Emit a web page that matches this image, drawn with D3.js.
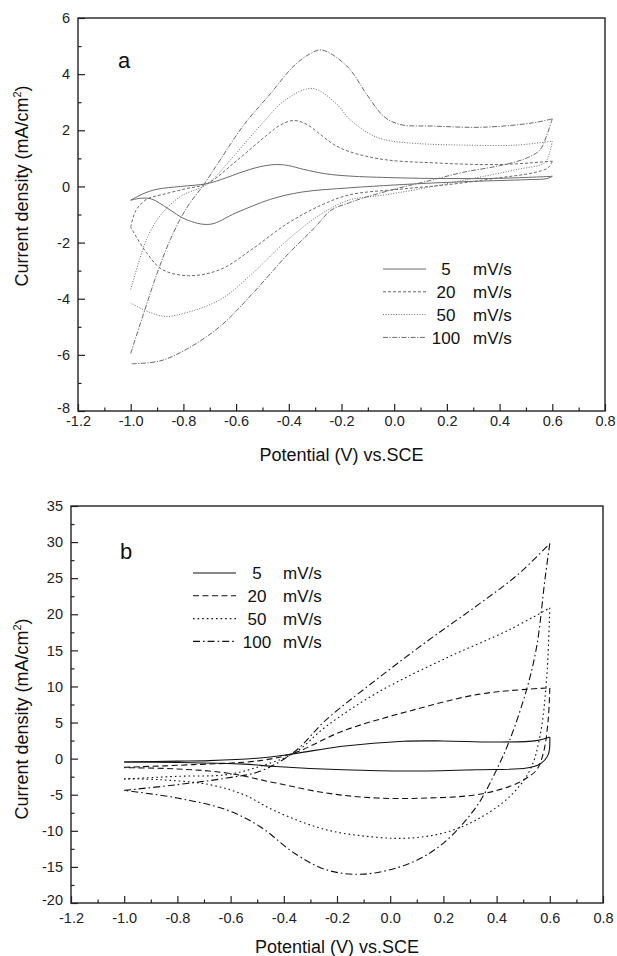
<!DOCTYPE html>
<html>
<head>
<meta charset="utf-8">
<script src="https://d3js.org/d3.v7.min.js"></script>
<style>
  body { margin: 0; background: #fff; font-family: "Liberation Sans", Arial, sans-serif; }
  .tick text { fill: #222; font-family: "Liberation Sans", Arial, sans-serif; }
  .tick line { stroke: #222; }
</style>
</head>
<body>
<svg id="fig" width="617" height="956"></svg>
<script>
// ---- data (potential V vs SCE, current density mA/cm2) ----
const xTicks = [-1.2, -1.0, -0.8, -0.6, -0.4, -0.2, 0.0, 0.2, 0.4, 0.6, 0.8];
const yTicksA = [-8, -6, -4, -2, 0, 2, 4, 6];
const yTicksB = [-20, -15, -10, -5, 0, 5, 10, 15, 20, 25, 30, 35];
const rates = ["5", "20", "50", "100"];

// panel a: anodic (up) and cathodic (down) sweeps
const a5Up = [[-1.0,-0.49],[-0.95,-0.25],[-0.9,-0.1],[-0.81,0.0],[-0.71,0.1],[-0.64,0.3],[-0.585,0.49],[-0.51,0.7],[-0.45,0.78],[-0.4,0.74],[-0.345,0.61],[-0.26,0.45],[-0.17,0.37],[0.0,0.31],[0.2,0.28],[0.4,0.29],[0.6,0.36]];
const a5Down = [[0.6,0.36],[0.58,0.28],[0.5,0.24],[0.3,0.18],[0.14,0.12],[0.0,0.05],[-0.17,-0.05],[-0.35,-0.2],[-0.47,-0.46],[-0.6,-0.94],[-0.7,-1.35],[-0.79,-1.18],[-0.86,-0.78],[-0.92,-0.45],[-0.96,-0.42],[-1.0,-0.49]];
const a20Up = [[-1.0,-1.45],[-0.98,-0.85],[-0.94,-0.46],[-0.88,-0.29],[-0.79,-0.08],[-0.71,0.1],[-0.6,0.9],[-0.48,1.85],[-0.43,2.2],[-0.38,2.35],[-0.33,2.2],[-0.28,1.85],[-0.23,1.5],[-0.17,1.24],[-0.04,0.96],[0.15,0.84],[0.4,0.78],[0.6,0.9]];
const a20Down = [[0.6,0.9],[0.585,0.67],[0.53,0.49],[0.4,0.31],[0.21,0.07],[0.02,-0.1],[-0.17,-0.3],[-0.28,-0.68],[-0.41,-1.35],[-0.54,-2.24],[-0.66,-2.96],[-0.78,-3.18],[-0.88,-2.96],[-0.94,-2.36],[-1.0,-1.45]];
const a50Up = [[-1.0,-3.67],[-0.97,-2.72],[-0.94,-1.89],[-0.89,-1.06],[-0.81,-0.35],[-0.71,0.08],[-0.62,0.96],[-0.51,2.15],[-0.41,3.1],[-0.31,3.49],[-0.22,2.95],[-0.17,2.4],[-0.1,1.91],[-0.04,1.67],[0.085,1.53],[0.28,1.47],[0.46,1.47],[0.6,1.61]];
const a50Down = [[0.6,1.61],[0.59,1.2],[0.57,0.84],[0.47,0.61],[0.28,0.25],[0.085,-0.11],[-0.05,-0.32],[-0.17,-0.48],[-0.28,-1.0],[-0.41,-1.95],[-0.535,-3.07],[-0.66,-4.03],[-0.79,-4.5],[-0.87,-4.63],[-0.94,-4.44],[-1.0,-4.15]];
const a100Up = [[-1.0,-5.95],[-0.95,-4.5],[-0.9,-3.1],[-0.85,-1.9],[-0.79,-0.8],[-0.72,0.1],[-0.66,0.95],[-0.57,2.2],[-0.47,3.3],[-0.38,4.3],[-0.32,4.72],[-0.275,4.86],[-0.18,4.29],[-0.1,3.22],[-0.04,2.5],[0.02,2.21],[0.15,2.15],[0.34,2.11],[0.53,2.27],[0.6,2.41]];
const a100Down = [[0.6,2.41],[0.578,1.8],[0.553,1.3],[0.5,1.0],[0.4,0.74],[0.26,0.5],[0.14,0.22],[0.0,-0.1],[-0.12,-0.42],[-0.17,-0.58],[-0.24,-0.85],[-0.3,-1.45],[-0.41,-2.48],[-0.535,-3.79],[-0.66,-4.98],[-0.79,-5.81],[-0.89,-6.22],[-1.0,-6.32]];

// panel b
const b5Up = [[-1.0,-0.46],[-0.8,-0.35],[-0.68,-0.28],[-0.49,0.09],[-0.36,0.69],[-0.18,1.71],[0.05,2.41],[0.2,2.45],[0.39,2.3],[0.55,2.5],[0.6,3.0]];
const b5Down = [[0.6,3.0],[0.594,0.56],[0.563,-0.74],[0.513,-1.3],[0.325,-1.53],[0.074,-1.72],[-0.176,-1.55],[-0.43,-1.1],[-0.55,-0.76],[-0.8,-0.52],[-1.0,-0.46]];
const b20Up = [[-1.0,-1.2],[-0.74,-0.83],[-0.49,-0.28],[-0.36,0.79],[-0.18,3.8],[0.07,6.57],[0.33,8.9],[0.51,9.6],[0.6,9.8]];
const b20Down = [[0.6,9.8],[0.594,5.4],[0.576,0.79],[0.551,-1.53],[0.513,-2.69],[0.45,-3.84],[0.325,-5.0],[0.137,-5.46],[-0.05,-5.46],[-0.24,-4.77],[-0.43,-3.38],[-0.615,-1.99],[-0.8,-1.43],[-1.0,-1.25]];
const b50Up = [[-1.0,-2.82],[-0.8,-2.45],[-0.615,-2.22],[-0.49,-1.07],[-0.36,0.79],[-0.24,4.49],[-0.05,9.1],[0.2,13.75],[0.45,17.9],[0.6,20.9]];
const b50Down = [[0.6,20.9],[0.588,11],[0.563,3.1],[0.526,-1.53],[0.45,-5.23],[0.325,-8.47],[0.2,-10.3],[0.074,-11],[-0.05,-10.9],[-0.24,-9.86],[-0.43,-7.3],[-0.55,-5.0],[-0.68,-3.6],[-0.865,-2.92],[-1.0,-2.8]];
const b100Up = [[-1.0,-4.4],[-0.8,-3.6],[-0.615,-2.69],[-0.49,-1.76],[-0.36,0.95],[-0.24,5.4],[-0.05,11],[0.14,16.3],[0.33,21.3],[0.48,25.5],[0.6,29.8]];
const b100Down = [[0.6,29.8],[0.582,24.9],[0.551,15.6],[0.513,9.6],[0.45,2.64],[0.4,-1.53],[0.325,-6.6],[0.2,-11.7],[0.074,-14.5],[-0.1,-16.0],[-0.24,-15.4],[-0.36,-13.1],[-0.49,-9.4],[-0.615,-7.1],[-0.8,-5.46],[-1.0,-4.4]];

const svg = d3.select("#fig");
svg.append("rect").attr("width", 617).attr("height", 956).attr("fill", "#fff");

function drawPanel(p) {
  const x = d3.scaleLinear().domain([-1.2, 0.8]).range([p.left, p.right]);
  const y = d3.scaleLinear().domain(d3.extent(p.yTicks)).range([p.bottom, p.top]);
  const g = svg.append("g");

  // minor ticks
  const xMinor = d3.range(-1.1, 0.8, 0.2);
  const yStep = p.yTicks[1] - p.yTicks[0];
  const yMinor = d3.range(p.yTicks[0] + yStep / 2, p.yTicks[p.yTicks.length - 1], yStep);
  g.append("g").attr("transform", `translate(0,${p.bottom})`)
    .call(d3.axisBottom(x).tickValues(xMinor).tickSize(-3.5).tickFormat(""))
    .call(a => a.select(".domain").remove());
  g.append("g").attr("transform", `translate(${p.left},0)`)
    .call(d3.axisLeft(y).tickValues(yMinor).tickSize(-3.5).tickFormat(""))
    .call(a => a.select(".domain").remove());

  // major ticks + labels
  const xa = g.append("g").attr("transform", `translate(0,${p.bottom})`)
    .call(d3.axisBottom(x).tickValues(xTicks).tickSize(-7).tickPadding(p.xPad).tickFormat(d => d.toFixed(1)));
  xa.select(".domain").remove();
  xa.selectAll("text").attr("font-size", 14.5);
  const ya = g.append("g").attr("transform", `translate(${p.left},0)`)
    .call(d3.axisLeft(y).tickValues(p.yTicks).tickSize(-7).tickPadding(8).tickFormat(d => String(d)));
  ya.select(".domain").remove();
  ya.selectAll("text").attr("font-size", 14.5);
  // lowest y label sits just above the corner, as in the source figure
  ya.selectAll("text").filter(d => d === p.yTicks[0]).attr("dy", "0.1em");

  g.selectAll(".tick line").attr("stroke-width", 1.2);

  // frame
  g.append("rect")
    .attr("x", p.left).attr("y", p.top)
    .attr("width", p.right - p.left).attr("height", p.bottom - p.top)
    .attr("fill", "none").attr("stroke", "#222").attr("stroke-width", 1.4);

  // curves
  const line = d3.line().x(d => x(d[0])).y(d => y(d[1])).curve(d3.curveCatmullRom.alpha(0.5));
  p.series.forEach((s, i) => {
    [s.up, s.down].forEach(branch => {
      g.append("path")
        .datum(branch)
        .attr("d", line)
        .attr("fill", "none")
        .attr("stroke", p.color)
        .attr("stroke-width", p.width)
        .attr("stroke-dasharray", p.dashes[i]);
    });
  });

  // panel letter
  g.append("text").attr("x", p.letterX).attr("y", p.letterY)
    .attr("font-size", 22).attr("fill", "#111").text(p.letter);

  // legend
  rates.forEach((r, i) => {
    const ly = p.legY + i * 22.8;
    g.append("line")
      .attr("x1", p.legX).attr("x2", p.legX + 43)
      .attr("y1", ly).attr("y2", ly)
      .attr("stroke", p.color).attr("stroke-width", p.width)
      .attr("stroke-dasharray", p.dashes[i]);
    g.append("text").attr("x", p.legNumX).attr("y", ly).attr("dy", "0.36em")
      .attr("text-anchor", "middle").attr("font-size", 17).attr("fill", "#111").text(r);
    g.append("text").attr("x", p.legUnitX).attr("y", ly).attr("dy", "0.36em")
      .attr("font-size", 17).attr("fill", "#111").text("mV/s");
  });

  // axis titles
  g.append("text")
    .attr("x", (p.left + p.right) / 2).attr("y", p.xTitleY)
    .attr("text-anchor", "middle").attr("font-size", 18).attr("fill", "#111")
    .text("Potential (V) vs.SCE");
  const yt = g.append("text")
    .attr("transform", `translate(28,${p.yTitleY}) rotate(-90)`)
    .attr("text-anchor", "middle").attr("font-size", 18).attr("fill", "#111");
  yt.append("tspan").text("Current density (mA/cm");
  yt.append("tspan").attr("dy", -7).attr("font-size", 11).text("2");
  yt.append("tspan").attr("dy", 7).text(")");
}

drawPanel({
  left: 78, right: 605, top: 18, bottom: 411, xPad: 5,
  yTicks: yTicksA,
  color: "#6a6a6a", width: 1,
  dashes: [null, "3,2", "1,1.6", "5,1.5,1.2,1.5"],
  series: [
    { up: a5Up, down: a5Down },
    { up: a20Up, down: a20Down },
    { up: a50Up, down: a50Down },
    { up: a100Up, down: a100Down }
  ],
  letter: "a", letterX: 118, letterY: 68,
  legX: 383, legY: 269, legNumX: 446, legUnitX: 473,
  xTitleY: 461, yTitleY: 186
});

drawPanel({
  left: 71, right: 603, top: 506, bottom: 903, xPad: 10,
  yTicks: yTicksB,
  color: "#111", width: 1.1,
  dashes: [null, "6,3.5", "1.6,3", "7,3,1.6,3"],
  series: [
    { up: b5Up, down: b5Down },
    { up: b20Up, down: b20Down },
    { up: b50Up, down: b50Down },
    { up: b100Up, down: b100Down }
  ],
  letter: "b", letterX: 120, letterY: 559,
  legX: 193, legY: 573, legNumX: 257, legUnitX: 283,
  xTitleY: 953, yTitleY: 719
});
</script>
</body>
</html>
